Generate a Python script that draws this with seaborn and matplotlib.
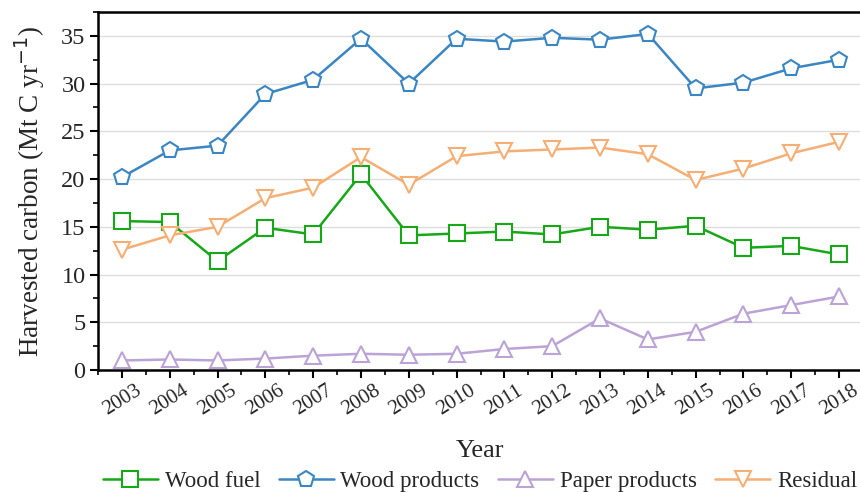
import matplotlib
matplotlib.use("Agg")
import matplotlib.pyplot as plt
from matplotlib.ticker import MultipleLocator
from matplotlib.lines import Line2D
from matplotlib.transforms import ScaledTranslation
import seaborn as sns
import pandas as pd

years = list(range(2003, 2019))
wood_fuel = [15.6, 15.5, 11.4, 14.9, 14.2, 20.5, 14.1, 14.3, 14.5, 14.2, 15.0, 14.7, 15.1, 12.8, 13.0, 12.1]
wood_products = [20.2, 23.0, 23.5, 28.9, 30.4, 34.7, 30.0, 34.7, 34.4, 34.8, 34.6, 35.2, 29.5, 30.1, 31.6, 32.5]
paper_products = [1.0, 1.1, 1.0, 1.2, 1.5, 1.7, 1.6, 1.7, 2.2, 2.5, 5.4, 3.2, 4.0, 5.9, 6.8, 7.7]
residual = [12.6, 14.1, 15.0, 18.0, 19.1, 22.3, 19.4, 22.4, 22.9, 23.1, 23.3, 22.6, 19.9, 21.1, 22.7, 23.9]

series_names = ["Wood fuel", "Wood products", "Paper products", "Residual"]
series_values = [wood_fuel, wood_products, paper_products, residual]
colors = ["#17a817", "#3a86c2", "#bba3d6", "#f5ae74"]
markers = ["s", "p", "^", "v"]

df = pd.concat(
    [pd.DataFrame({"Year": years, "Carbon": vals, "Series": name})
     for name, vals in zip(series_names, series_values)],
    ignore_index=True,
)

sns.set_theme(style="white")
plt.rcParams["font.family"] = ["Liberation Serif", "DejaVu Serif"]

fig = plt.figure(figsize=(8.6, 4.92), dpi=100)
ax = fig.add_axes([98 / 860, 1 - 370 / 492, (863 - 98) / 860, (370 - 12) / 492])

for name, col, mk in zip(series_names, colors, markers):
    sub = df[df["Series"] == name]
    sns.lineplot(data=sub, x="Year", y="Carbon", ax=ax, color=col, marker=mk,
                 markersize=12, markerfacecolor="white", markeredgecolor=col,
                 markeredgewidth=1.5, linewidth=1.8, legend=False, zorder=3)

ax.set_xlim(2002.5, 2018.5)
ax.set_ylim(0, 37.5)
ax.set_xticks(years)
ax.set_xticklabels([str(y) for y in years], rotation=32, ha="center", fontsize=15)
shift = ScaledTranslation(-8 / 100, 0, fig.dpi_scale_trans)
for lbl in ax.get_xticklabels():
    lbl.set_transform(lbl.get_transform() + shift)
ax.xaxis.set_minor_locator(MultipleLocator(0.5))
ax.yaxis.set_major_locator(MultipleLocator(5))
ax.yaxis.set_minor_locator(MultipleLocator(2.5))
ax.tick_params(axis="y", labelsize=17.5, pad=3)
ax.tick_params(axis="x", pad=2)
ax.tick_params(which="major", direction="out", length=6, width=1.5, color="black",
               bottom=True, left=True)
ax.tick_params(which="minor", direction="out", length=3.5, width=1.2, color="black",
               bottom=True, left=True)
ax.grid(axis="y", color="#dddddd", linewidth=1.0, zorder=0)
ax.set_axisbelow(True)

for side in ["left", "bottom", "top"]:
    ax.spines[side].set_visible(True)
    ax.spines[side].set_color("black")
    ax.spines[side].set_linewidth(1.8)
ax.spines["right"].set_visible(False)

ax.set_xlabel("Year", fontsize=19, labelpad=15)
ax.set_ylabel("Harvested carbon (Mt C yr$^{-1}$)", fontsize=19.5, labelpad=10)

handles = [Line2D([], [], color=c, marker=m, markersize=12, markerfacecolor="white",
                  markeredgecolor=c, markeredgewidth=1.5, linewidth=1.8)
           for c, m in zip(colors, markers)]
fig.legend(handles, series_names, loc="center", bbox_to_anchor=(0.558, 0.022), ncol=4,
           frameon=False, handlelength=2.4, columnspacing=0.8, handletextpad=0.3,
           borderaxespad=0, borderpad=0,
           prop={"family": ["Liberation Serif", "DejaVu Serif"], "size": 16.5})

fig.savefig("out.png", dpi=100)
